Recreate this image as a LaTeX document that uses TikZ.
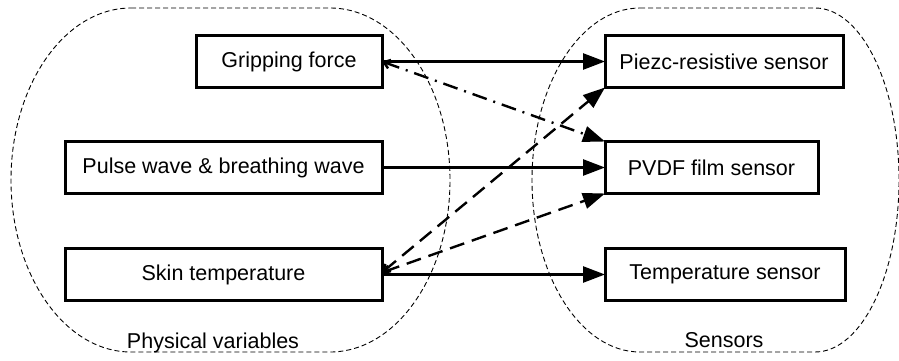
\documentclass[tikz,border=0pt]{standalone}
\usepackage{fontspec}
\setmainfont{Liberation Sans}
\usetikzlibrary{arrows.meta}
\begin{document}
\begin{tikzpicture}[x=1pt,y=1pt,
  varbox/.style={draw, line width=3pt, inner sep=0pt, outer sep=0pt,
    minimum height=52pt, font=\fontsize{21.5}{24}\selectfont},
  flow/.style={line width=2.6pt, -{Triangle[length=22pt,width=16pt]}},
  weak/.style={line width=2.4pt, dash pattern=on 15pt off 8pt,
    {Straight Barb[length=6pt,width=9pt]}-{Triangle[length=22pt,width=16pt]}},
  weakdot/.style={line width=2.4pt, dash pattern=on 15pt off 7pt on 2pt off 7pt,
    {Straight Barb[length=6pt,width=9pt]}-{Triangle[length=22pt,width=16pt]}},
  group/.style={line width=0.9pt, dash pattern=on 5pt off 3pt},
  grouplabel/.style={font=\fontsize{21.5}{24}\selectfont, anchor=base}]
\useasboundingbox (0,0) rectangle (899,360);

% group outlines
\draw[group] (131,352) -- (330,352)
  arc[start angle=90, end angle=-90, x radius=120, y radius=172]
  -- (131,8)
  arc[start angle=-90, end angle=-270, x radius=120, y radius=172] -- cycle;
\draw[group] (640,352) -- (815,352)
  arc[start angle=90, end angle=-90, x radius=84, y radius=172]
  -- (640,8)
  arc[start angle=-90, end angle=-270, x radius=108, y radius=172] -- cycle;

% physical variables
\node[varbox, minimum width=186pt] (grip) at (289,298.5) {Gripping force};
\node[varbox, minimum width=317pt] (pulse) at (223.5,192.5) {Pulse wave \& breathing wave};
\node[varbox, minimum width=317pt] (skin) at (223.5,85.5) {Skin temperature};

% sensors
\node[varbox, minimum width=238pt] (piezo) at (724,298.5) {Piezc-resistive sensor};
\node[varbox, minimum width=213pt] (pvdf) at (711.5,192.5) {PVDF film sensor};
\node[varbox, minimum width=240pt] (temp) at (725,85.5) {Temperature sensor};

% group labels
\node[grouplabel] (physlabel) at (213,12) {Physical variables};
\node[grouplabel] (senslabel) at (724,13) {Sensors};

% main couplings
\draw[flow] (grip.east) -- (piezo.west);
\draw[flow] (pulse.east) -- (pvdf.west);
\draw[flow] (skin.east) -- (temp.west);

% cross couplings
\draw[weakdot] (grip.east) -- (pvdf.north west);
\draw[weak] ([yshift=2pt]skin.east) -- (piezo.south west);
\draw[weak] ([yshift=2pt]skin.east) -- (pvdf.south west);
\end{tikzpicture}
\end{document}
